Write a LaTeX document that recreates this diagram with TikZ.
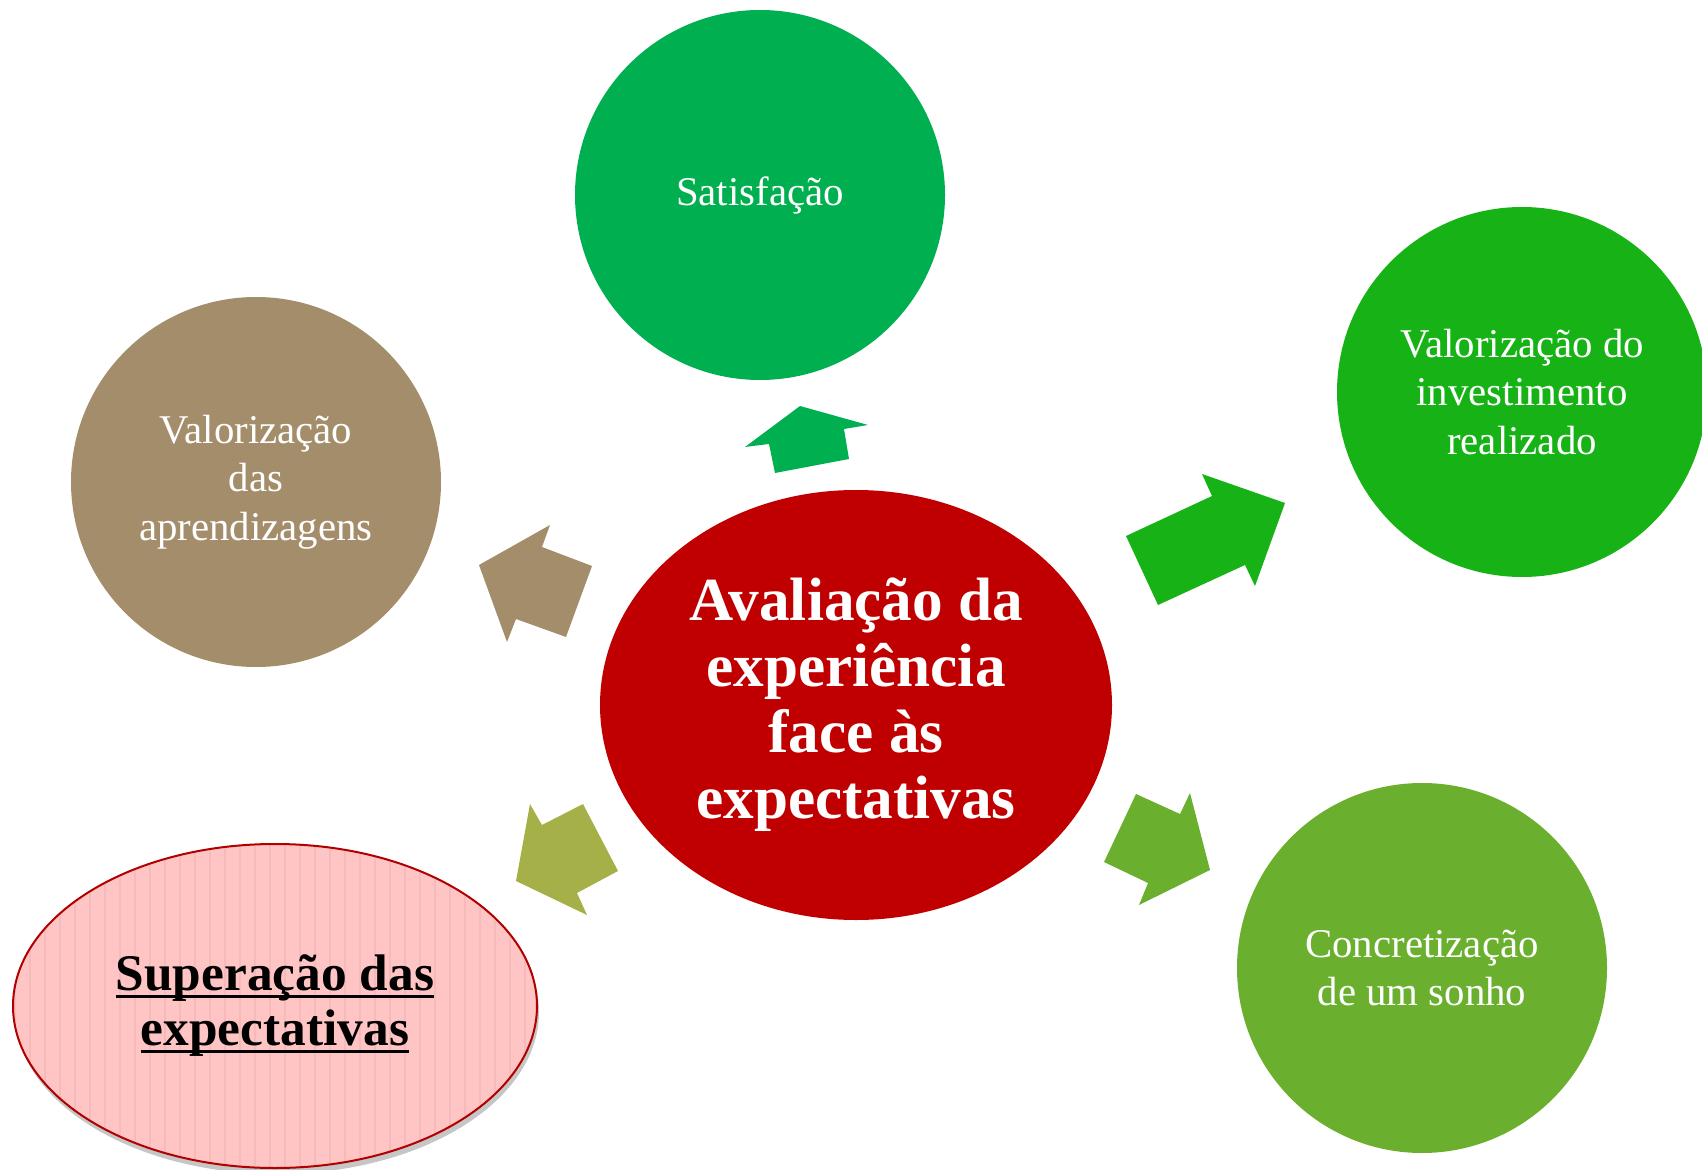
\documentclass[tikz,border=0pt]{standalone}
\usepackage{fontspec}
\setmainfont{Liberation Serif}
\usetikzlibrary{shapes.geometric,shadows,patterns.meta}

\definecolor{satgreen}{RGB}{0,176,80}
\definecolor{invgreen}{RGB}{22,178,22}
\definecolor{sonhogreen}{RGB}{106,176,46}
\definecolor{aprbrown}{RGB}{164,141,107}
\definecolor{centerred}{RGB}{192,0,0}
\definecolor{supolive}{RGB}{165,176,72}
\definecolor{pinkbg}{RGB}{255,196,196}
\definecolor{pinkline}{RGB}{246,186,186}
\definecolor{pinkborder}{RGB}{176,0,0}

\newcommand{\ulline}[1]{\setbox0\hbox{#1}\rlap{\rule[-0.13em]{\wd0}{0.06em}}\box0}

\tikzset{
    bubble/.style={circle, minimum size=185pt, inner sep=0pt, text=white,
        align=center, font=\fontsize{20.4}{24.25}\selectfont},
}

\begin{document}
\begin{tikzpicture}[
        x=0.5pt, y=-0.5pt,
        ]
        \useasboundingbox (0,0) rectangle (1702,1170);

        \node (centro) at (856,705) [ellipse, fill=centerred, minimum width=256pt,
            minimum height=215pt, inner sep=0pt, text=white, align=center,
            font=\fontsize{30.6}{33}\selectfont\bfseries]
            {Avaliação da\\experiência\\face às\\expectativas};

        \node (satisf) at (760,195) [bubble, fill=satgreen] {Satisfação};
        \node (aprend) at (256,482) [bubble, fill=aprbrown] {Valorização\\das\\aprendizagens};
        \node (invest) at (1522,392) [bubble, fill=invgreen] {Valorização do\\investimento\\realizado};
        \node (sonho) at (1422,968) [bubble, fill=sonhogreen] {Concretização\\de um sonho};

        \node (superacao) at (275,1006) [ellipse, minimum width=262pt, minimum height=162pt,
            inner sep=0pt, align=center,
            drop shadow={shadow xshift=1pt, shadow yshift=-3pt, opacity=0.45},
            preaction={fill=pinkbg},
            pattern={Lines[angle=90, distance=7.5pt, line width=1.3pt]}, pattern color=pinkline,
            draw=pinkborder, line width=1pt,
            font=\fontsize{25.7}{27.5}\selectfont\bfseries]
            {\ulline{Superação das}\\\ulline{expectativas}};

        % block arrows
        \fill [satgreen] (800,406) -- (868,425) -- (844,429) -- (849,459) -- (775,473)
            -- (769,444) -- (745,447) -- cycle;
        \fill [invgreen] (1285,503) -- (1255,586) -- (1245,565) -- (1158,605) -- (1126,536)
            -- (1212,496) -- (1202,474) -- cycle;
        \fill [aprbrown] (479,565) -- (550,525) -- (542,547) -- (592,566) -- (566,637)
            -- (516,619) -- (507,642) -- cycle;
        \fill [supolive] (516,881) -- (530,804) -- (542,825) -- (583,804) -- (618,871)
            -- (577,893) -- (587,915) -- cycle;
        \fill [sonhogreen] (1210,870) -- (1139,905) -- (1148,883) -- (1104,862) -- (1136,794)
            -- (1180,814) -- (1190,793) -- cycle;

    \end{tikzpicture}
\end{document}
